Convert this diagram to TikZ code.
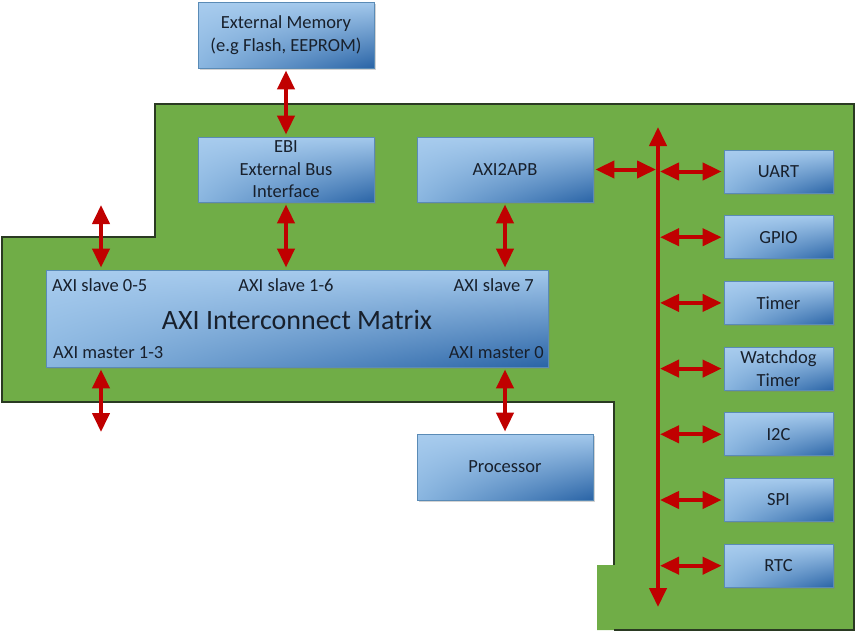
\documentclass[tikz,border=0pt]{standalone}
\usepackage{fontspec}
\setmainfont{Carlito}
\usetikzlibrary{arrows.meta,shadows,shadings}

\definecolor{boardgreen}{HTML}{70AD47}
\definecolor{boardline}{HTML}{2A3A22}
\definecolor{busred}{HTML}{C00000}
\definecolor{boxlight}{HTML}{A8CCEE}
\definecolor{boxmid}{HTML}{8AB6E0}
\definecolor{boxdark}{HTML}{2A64A6}
\definecolor{boxline}{HTML}{5A8BB6}
\definecolor{inktext}{HTML}{18202C}

\tikzset{
  blk/.style={draw=boxline, line width=0.8pt,
    upper left=boxlight, upper right=boxlight!85!boxmid,
    lower left=boxmid, lower right=boxdark, shading=bilinear interpolation,
    drop shadow={shadow xshift=1.5pt, shadow yshift=-1.5pt, opacity=0.35},
    text=inktext, align=center, font=\fontsize{18.5}{22.5}\selectfont},
  periph/.style={blk, minimum width=109pt, minimum height=43pt},
  lbl/.style={text=inktext, inner sep=0pt, font=\fontsize{18.5}{20}\selectfont},
  bidir/.style={draw=busred, line width=4pt,
    {Triangle[length=19pt,width=17pt]}-{Triangle[length=19pt,width=17pt]},
    shorten <=2pt, shorten >=2pt}
}

\begin{document}
\begin{tikzpicture}[x=1pt,y=-1pt]
	\useasboundingbox (0,0) rectangle (857,632);
	
	% green board behind everything
	\fill[boardgreen] (2,237) -- (155,237) -- (155,104) -- (854,104) -- (854,630)
		-- (597,630) -- (597,565) -- (614,565) -- (614,402) -- (2,402) -- cycle;
	\draw[boardline, line width=1.2pt] (614,565) -- (614,402) -- (2,402) -- (2,237)
		-- (155,237) -- (155,104) -- (854,104) -- (854,630) -- (614,630);
	
	% blocks
	\node[blk, minimum width=176pt, minimum height=66pt] (extmem) at (286,35) {External Memory\\(e.g Flash, EEPROM)};
	\node[blk, minimum width=176pt, minimum height=65pt] (ebi) at (286,169.5) {EBI\\External Bus\\Interface};
	\node[blk, minimum width=176pt, minimum height=65pt] (apb) at (505,169.5) {AXI2APB};
	\node[blk, minimum width=502pt, minimum height=97pt] (mtx) at (297,318.5) {};
	\node[blk, minimum width=176pt, minimum height=66pt] (cpu) at (505,467) {Processor};
	
	% labels of the matrix
	\node[lbl, font=\fontsize{28}{30}\selectfont] (mtxlbl) at (297,320) {AXI Interconnect Matrix};
	\node[lbl, anchor=west] (s05lbl) at (52,285) {AXI slave 0-5};
	\node[lbl] (s16lbl) at (286,285) {AXI slave 1-6};
	\node[lbl, anchor=east] (s7lbl) at (534,285) {AXI slave 7};
	\node[lbl, anchor=west] (m13lbl) at (53,353) {AXI master 1-3};
	\node[lbl, anchor=east] (m0lbl) at (544,353) {AXI master 0};
	
	% peripherals on the APB bus
	\coordinate (bustop) at (658,127);
	\coordinate (busbot) at (658,607);
	\foreach \nm/\txt [count=\i from 0] in {uart/UART, gpio/GPIO, tmr/Timer, wdt/{Watchdog\\Timer}, iic/I2C, spi/SPI, rtc/RTC}{
		\node[periph] (\nm) at (778.5,{171.5+65.7*\i}) {\txt};
		\draw[bidir] (\nm.west -| bustop) -- (\nm.west);
	}
	
	% connections
	\draw[bidir, shorten <=0pt, shorten >=0pt] (bustop) -- (busbot);
	\draw[bidir] (apb.east) -- (apb.east -| bustop);
	\draw[bidir] (extmem) -- (ebi);
	\draw[bidir] (ebi.south) -- (ebi.south |- mtx.north);
	\draw[bidir] (apb.south) -- (apb.south |- mtx.north);
	\draw[bidir] (cpu.north |- mtx.south) -- (cpu.north);
	\coordinate (s05) at (101,203);
	\coordinate (m13) at (101,434);
	\draw[bidir] (s05) -- (s05 |- mtx.north);
	\draw[bidir] (m13 |- mtx.south) -- (m13);
	
\end{tikzpicture}
\end{document}
